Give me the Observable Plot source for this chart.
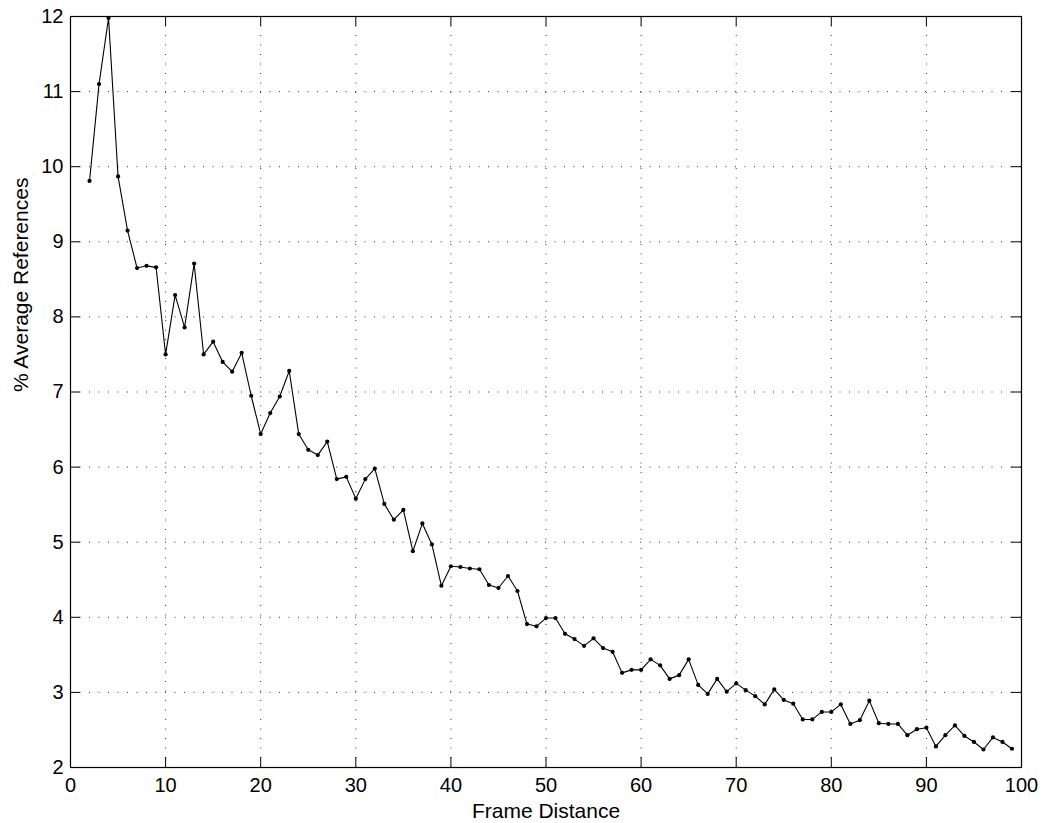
<!DOCTYPE html>
<html>
<head>
<meta charset="utf-8">
<script src="https://cdn.jsdelivr.net/npm/d3@7"></script>
<script src="https://cdn.jsdelivr.net/npm/@observablehq/plot@0.6"></script>
<style>
  html, body { margin: 0; padding: 0; background: #fff; }
  #chart svg { display: block; }
</style>
</head>
<body>
<div id="chart"></div>
<script>
// Frame distance (x) categories
const frameDistance = [
  2, 3, 4, 5, 6, 7, 8, 9, 10, 11, 12, 13, 14, 15, 16, 17, 18, 19, 20,
  21, 22, 23, 24, 25, 26, 27, 28, 29, 30, 31, 32, 33, 34, 35, 36, 37, 38, 39, 40,
  41, 42, 43, 44, 45, 46, 47, 48, 49, 50, 51, 52, 53, 54, 55, 56, 57, 58, 59, 60,
  61, 62, 63, 64, 65, 66, 67, 68, 69, 70, 71, 72, 73, 74, 75, 76, 77, 78, 79, 80,
  81, 82, 83, 84, 85, 86, 87, 88, 89, 90, 91, 92, 93, 94, 95, 96, 97, 98, 99
];
// % average references
const avgReferences = [
  9.81, 11.10, 11.98, 9.87, 9.15, 8.65, 8.68, 8.66, 7.50, 8.29, 7.86, 8.71, 7.50, 7.67, 7.40, 7.27, 7.52, 6.95, 6.44,
  6.72, 6.94, 7.28, 6.44, 6.23, 6.16, 6.34, 5.84, 5.87, 5.58, 5.84, 5.98, 5.51, 5.30, 5.43, 4.88, 5.25, 4.97, 4.42, 4.68,
  4.67, 4.65, 4.64, 4.43, 4.39, 4.55, 4.35, 3.91, 3.88, 3.99, 3.99, 3.78, 3.71, 3.62, 3.72, 3.59, 3.54, 3.26, 3.30, 3.30,
  3.44, 3.36, 3.18, 3.23, 3.44, 3.10, 2.98, 3.18, 3.01, 3.12, 3.03, 2.95, 2.84, 3.04, 2.90, 2.85, 2.64, 2.64, 2.74, 2.74,
  2.84, 2.58, 2.63, 2.89, 2.59, 2.58, 2.58, 2.43, 2.51, 2.53, 2.28, 2.43, 2.56, 2.42, 2.34, 2.24, 2.40, 2.34, 2.25
];
const xTicks = [0, 10, 20, 30, 40, 50, 60, 70, 80, 90, 100];
const yTicks = [2, 3, 4, 5, 6, 7, 8, 9, 10, 11, 12];
const xGrid = [10, 20, 30, 40, 50, 60, 70, 80, 90];
const yGrid = [3, 4, 5, 6, 7, 8, 9, 10, 11];
const xTitle = "Frame Distance";
const yTitle = "% Average References";

const data = frameDistance.map((f, i) => ({x: f, y: avgReferences[i]}));

const W = 1047, H = 823;
const mL = 70, mR = 26, mT = 16, mB = 56;
const fw = W - mL - mR, fh = H - mT - mB;
const tickLen = 10;
const dots = "1,8.5";

const chart = Plot.plot({
  width: W,
  height: H,
  marginLeft: mL,
  marginRight: mR,
  marginTop: mT,
  marginBottom: mB,
  style: {fontFamily: "'Liberation Sans', Arial, Helvetica, sans-serif", fontSize: "20px", color: "#000", background: "#fff"},
  x: {domain: [0, 100]},
  y: {domain: [2, 12]},
  marks: [
    Plot.ruleX(xGrid, {x: d => d, stroke: "#000", strokeWidth: 1, strokeDasharray: dots, strokeOpacity: 0.8}),
    Plot.ruleY(yGrid, {y: d => d, stroke: "#000", strokeWidth: 1, strokeDasharray: dots, strokeOpacity: 0.8}),
    // inward ticks
    Plot.tickX(xTicks, {x: d => d, insetTop: fh - tickLen, stroke: "#000", strokeWidth: 1}),
    Plot.tickX(xTicks, {x: d => d, insetBottom: fh - tickLen, stroke: "#000", strokeWidth: 1}),
    Plot.tickY(yTicks, {y: d => d, insetRight: fw - tickLen, stroke: "#000", strokeWidth: 1}),
    Plot.tickY(yTicks, {y: d => d, insetLeft: fw - tickLen, stroke: "#000", strokeWidth: 1}),
    Plot.frame({stroke: "#000", strokeWidth: 1.2}),
    Plot.axisX({ticks: xTicks, tickSize: 0, tickPadding: 10, label: null, tickFormat: d => String(d)}),
    Plot.axisY({ticks: yTicks, tickSize: 0, tickPadding: 7, label: null, tickFormat: d => String(d)}),
    Plot.line(data, {x: "x", y: "y", stroke: "#000", strokeWidth: 1.1}),
    Plot.dot(data, {x: "x", y: "y", r: 2.1, fill: "#000", stroke: null}),
    Plot.text([xTitle], {text: d => d, frameAnchor: "bottom", dy: 36, lineAnchor: "top", fill: "#000", fontSize: 21}),
    Plot.text([yTitle], {text: d => d, frameAnchor: "left", dx: -43, rotate: -90, lineAnchor: "bottom", fill: "#000", fontSize: 21})
  ]
});
document.getElementById("chart").appendChild(chart);
</script>
</body>
</html>
